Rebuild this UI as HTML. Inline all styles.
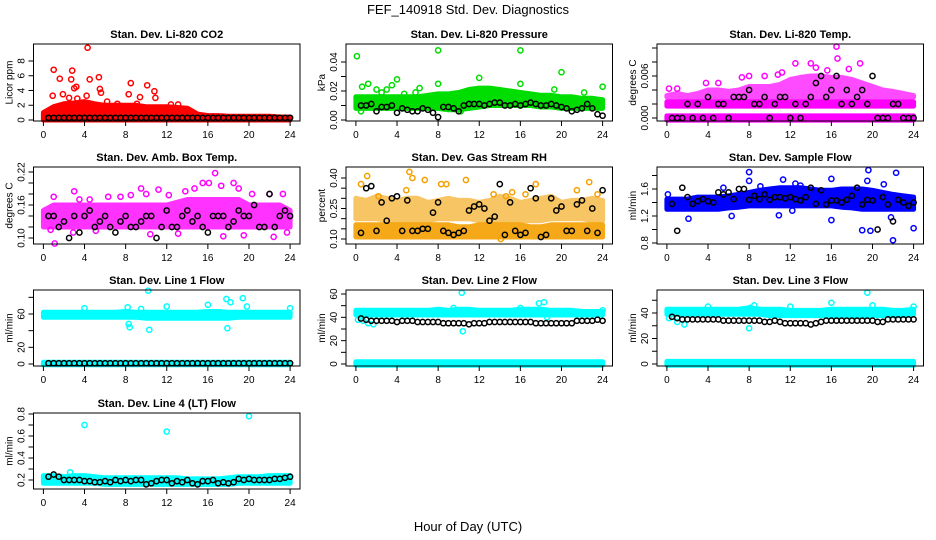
<!DOCTYPE html>
<html><head><meta charset="utf-8">
<style>
html,body{margin:0;padding:0;background:#fff;}
svg{display:block;font-family:"Liberation Sans",Arial,sans-serif;}
</style></head>
<body>
<svg id="chart" width="936" height="540" viewBox="0 0 936 540">
<text x="468" y="14" text-anchor="middle" font-size="13">FEF_140918  Std. Dev. Diagnostics</text>
<text x="468" y="531" text-anchor="middle" font-size="13">Hour of Day (UTC)</text>
</svg>
<script>
const HOURS = [0,1,2,3,4,5,6,7,8,9,10,11,12,13,14,15,16,17,18,19,20,21,22,23,24];
const BLK_HOURS = [0.5,1,1.5,2,2.5,3,3.5,4,4.5,5,5.5,6,6.5,7,7.5,8,8.5,9,9.5,10,10.5,11,11.5,12,12.5,13,13.5,14,14.5,15,15.5,16,16.5,17,17.5,18,18.5,19,19.5,20,20.5,21,21.5,22,22.5,23,23.5,24];
const X_TICKS = [0,4,8,12,16,20,24];

// Panel 1 CO2
const p1BandLo = [0,0,0,0,0,0,0,0,0,0,0,0,0,0,0,0,0,0,0,0,0,0,0,0,0];
const p1BandHi = [1,1.8,2.2,2.3,2.5,2.2,2,2,2,2,1.8,1.8,1.8,1.7,1.6,0.8,0.6,0.6,0.5,0.5,0.5,0.5,0.5,0.4,0.4];
const p1PtX = [0.9,1,1.6,1.9,2.7,2.8,3.0,3.2,4.3,4.5,5.4,5.5,5.6,8.3,8.5,9.4,10.1,10.8,10.9,3.3,6.2,2.5,4.2,7.2,9.1,12.4,13.1];
const p1PtY = [3.3,6.8,5.6,3.5,5.5,6.7,4.3,4.5,9.8,5.5,5.8,4.2,3.7,3.5,5.0,3.1,4.7,3.9,3.0,2.9,2.5,3.0,3.3,2.2,2.2,2.1,2.1];
const p1Blk = [0.3,0.3,0.3,0.3,0.3,0.3,0.3,0.3,0.3,0.3,0.3,0.3,0.3,0.3,0.3,0.3,0.3,0.3,0.3,0.3,0.3,0.3,0.3,0.3,0.3,0.3,0.3,0.3,0.3,0.3,0.3,0.3,0.3,0.3,0.3,0.3,0.3,0.3,0.3,0.3,0.3,0.3,0.3,0.3,0.3,0.3,0.3,0.3];
const p1YTicks = [0,2,4,6,8];
const p1YLabels = ["0","2","4","6","8"];

// Panel 2 Pressure
const p2BandLo = [0.008,0.008,0.008,0.008,0.008,0.008,0.008,0.008,0.008,0.007,0.007,0.008,0.009,0.010,0.010,0.010,0.010,0.010,0.009,0.009,0.008,0.008,0.008,0.008,0.008];
const p2BandHi = [0.016,0.016,0.016,0.016,0.016,0.016,0.016,0.017,0.018,0.018,0.019,0.021,0.022,0.022,0.021,0.020,0.019,0.018,0.017,0.017,0.016,0.016,0.015,0.015,0.014];
const p2PtX = [0.1,0.6,1.2,2,2.5,3,3.5,4,4.7,5.8,6.2,8,8,12,16,16,19.3,20,22.2,24,0.5,10.2];
const p2PtY = [0.044,0.023,0.025,0.021,0.019,0.021,0.024,0.028,0.018,0.019,0.022,0.048,0.025,0.029,0.048,0.025,0.021,0.033,0.019,0.023,0.006,0.006];
const p2Blk = [0.010,0.010,0.011,0.006,0.009,0.009,0.010,0.005,0.008,0.007,0.006,0.006,0.008,0.007,0.005,0.002,0.009,0.009,0.008,0.006,0.010,0.011,0.011,0.011,0.010,0.011,0.012,0.012,0.010,0.010,0.011,0.010,0.011,0.012,0.011,0.010,0.010,0.011,0.010,0.009,0.008,0.006,0.007,0.008,0.011,0.008,0.004,0.003];
const p2YTicks = [0,0.01,0.02,0.03,0.04];
const p2YLabels = ["0.00","","0.02","","0.04"];

// Panel 3 Li-820 Temp
const p3BandALo = [-0.0003,-0.0003,-0.0003,-0.0003,-0.0003,-0.0003,-0.0003,-0.0003,-0.0003,-0.0003,-0.0003,-0.0003,-0.0003,-0.0003,-0.0003,-0.0003,-0.0003,-0.0003,-0.0003,-0.0003,-0.0003,-0.0003,-0.0003,-0.0003,-0.0003];
const p3BandAHi = [0.0003,0.0003,0.0003,0.0003,0.0003,0.0003,0.0003,0.0003,0.0003,0.0003,0.0003,0.0003,0.0003,0.0003,0.0003,0.0003,0.0003,0.0003,0.0003,0.0003,0.0003,0.0003,0.0003,0.0003,0.0003];
const p3BandBLo = [0.0017,0.0017,0.0017,0.0017,0.0017,0.0017,0.0017,0.0017,0.0017,0.0017,0.0017,0.0017,0.0017,0.0017,0.0017,0.0017,0.0017,0.0017,0.0017,0.0017,0.0017,0.0017,0.0017,0.0017,0.0017];
const p3BandBHi = [0.0023,0.0023,0.0023,0.0023,0.0023,0.0023,0.0023,0.0023,0.0023,0.0023,0.0023,0.0023,0.0023,0.0023,0.0023,0.0023,0.0023,0.0023,0.0023,0.0023,0.0023,0.0023,0.0023,0.0023,0.0023];
const p3BandCLo = [0.0030,0.0030,0.0030,0.0030,0.0030,0.0030,0.0030,0.0030,0.0030,0.0030,0.0030,0.0030,0.0030,0.0030,0.0030,0.0030,0.0030,0.0030,0.0030,0.0030,0.0030,0.0030,0.0030,0.0030,0.0030];
const p3BandCHi = [0.0032,0.0035,0.0032,0.0035,0.0040,0.0040,0.0038,0.0040,0.0045,0.0045,0.0045,0.0048,0.0055,0.0058,0.0060,0.0060,0.0058,0.0058,0.0055,0.0050,0.0045,0.0040,0.0038,0.0035,0.0032];
const p3PtX = [16.5,16.6,12.5,14,18.8,7.3,8,9.5,10.8,0.2,1,3.8,5,11.2,14.5,15.6,17.7];
const p3PtY = [0.0102,0.0085,0.0078,0.0078,0.0078,0.0058,0.0060,0.0060,0.0062,0.0042,0.0042,0.0050,0.0050,0.0065,0.0072,0.0068,0.0070];
const p3Blk = [0.000,0.000,0.000,0.002,0.000,0.002,0.000,0.003,0.000,0.002,0.002,0.000,0.003,0.003,0.003,0.004,0.002,0.002,0.003,0.000,0.002,0.003,0.003,0.000,0.002,0.000,0.002,0.003,0.005,0.006,0.003,0.004,0.006,0.002,0.004,0.002,0.003,0.004,0.002,0.006,0.000,0.000,0.000,0.002,0.002,0.000,0.000,0.000];
const p3YTicks = [0,0.002,0.004,0.006,0.008,0.010];
const p3YLabels = ["0.000","","","0.006","",""];

// Panel 4 Amb Box Temp
const p4BandLo = [0.12,0.12,0.12,0.12,0.12,0.12,0.12,0.12,0.12,0.12,0.12,0.12,0.12,0.12,0.12,0.12,0.12,0.12,0.12,0.12,0.12,0.12,0.12,0.12,0.12];
const p4BandHi = [0.15,0.16,0.16,0.16,0.16,0.16,0.16,0.16,0.16,0.16,0.16,0.16,0.16,0.165,0.17,0.17,0.17,0.17,0.17,0.17,0.16,0.16,0.16,0.16,0.15];
const p4PtX = [1,1.1,3,3.5,4.5,7.5,8.5,9.5,10,11.2,13.8,14.7,15.5,16.1,16.7,17.3,18.5,19,20.3,22,23.3,17.5,19.5,22.4,10.4,13.1,0.7,5.1,2.9,23.7,6.3,12.2];
const p4PtY = [0.175,0.09,0.185,0.17,0.17,0.175,0.178,0.19,0.18,0.188,0.185,0.19,0.2,0.2,0.218,0.195,0.2,0.19,0.18,0.18,0.18,0.103,0.105,0.102,0.107,0.108,0.115,0.113,0.11,0.11,0.175,0.178];
const p4Blk = [0.14,0.14,0.12,0.13,0.10,0.14,0.11,0.14,0.15,0.12,0.13,0.14,0.12,0.11,0.13,0.14,0.12,0.12,0.13,0.14,0.14,0.10,0.12,0.15,0.12,0.12,0.14,0.15,0.13,0.14,0.12,0.11,0.14,0.14,0.14,0.12,0.13,0.15,0.14,0.14,0.16,0.12,0.12,0.18,0.12,0.14,0.15,0.14];
const p4YTicks = [0.10,0.12,0.14,0.16,0.18,0.20,0.22];
const p4YLabels = ["0.10","","","0.16","","","0.22"];

// Panel 5 Gas Stream RH
const p5BandALo = [0.11,0.11,0.11,0.11,0.11,0.11,0.11,0.11,0.11,0.11,0.11,0.11,0.11,0.11,0.11,0.11,0.11,0.11,0.11,0.11,0.11,0.11,0.11,0.11,0.11];
const p5BandAHi = [0.17,0.17,0.17,0.17,0.17,0.17,0.17,0.17,0.17,0.17,0.16,0.16,0.17,0.17,0.17,0.17,0.17,0.16,0.16,0.17,0.17,0.17,0.17,0.17,0.17];
const p5BandBLo = [0.20,0.20,0.20,0.19,0.19,0.19,0.19,0.19,0.20,0.20,0.20,0.20,0.19,0.19,0.19,0.19,0.19,0.19,0.19,0.20,0.20,0.20,0.20,0.19,0.19];
const p5BandBHi = [0.30,0.29,0.31,0.30,0.29,0.30,0.30,0.28,0.29,0.30,0.29,0.29,0.28,0.29,0.31,0.30,0.28,0.29,0.30,0.31,0.28,0.29,0.29,0.30,0.29];
const p5PtX = [0.5,1.1,5.2,5.5,6.7,8.3,8.8,10.7,13.4,14.6,17.5,21.5,22.7,23.5,14.1,4.9,2.2,15.2,16.5];
const p5PtY = [0.37,0.41,0.43,0.40,0.39,0.37,0.37,0.39,0.32,0.31,0.37,0.34,0.38,0.32,0.10,0.34,0.31,0.33,0.32];
const p5Blk = [0.13,0.35,0.36,0.14,0.28,0.19,0.30,0.31,0.14,0.29,0.14,0.14,0.15,0.15,0.23,0.28,0.14,0.13,0.12,0.13,0.14,0.24,0.26,0.27,0.25,0.19,0.21,0.37,0.12,0.28,0.14,0.12,0.13,0.35,0.30,0.11,0.12,0.30,0.24,0.26,0.14,0.14,0.27,0.29,0.14,0.25,0.13,0.34];
const p5YTicks = [0.10,0.15,0.20,0.25,0.30,0.35,0.40];
const p5YLabels = ["0.10","","","0.25","","","0.40"];

// Panel 6 Sample Flow
const p6BandLo = [1.30,1.30,1.30,1.30,1.30,1.30,1.32,1.33,1.35,1.35,1.35,1.35,1.35,1.35,1.35,1.35,1.35,1.33,1.32,1.30,1.30,1.30,1.30,1.30,1.30];
const p6BandHi = [1.45,1.45,1.45,1.48,1.48,1.48,1.50,1.52,1.55,1.58,1.60,1.62,1.62,1.62,1.60,1.58,1.58,1.60,1.60,1.60,1.58,1.55,1.52,1.50,1.48];
const p6PtX = [0.1,2.1,6.3,8,8,9.1,11.3,10.9,12.2,16,16,19,19.5,19.6,19.8,21.1,21.8,22,22.3,24,12.5,13,5.5];
const p6PtY = [1.52,1.16,1.2,1.85,1.72,1.64,1.74,1.21,1.28,1.14,1.75,0.99,1.72,1.88,0.98,1.67,1.18,0.84,1.84,1.02,1.68,1.65,1.62];
const p6Blk = [1.38,0.98,1.62,1.48,1.38,1.42,1.45,1.42,1.40,1.55,1.52,1.55,1.45,1.60,1.60,1.44,1.50,1.45,1.52,1.44,1.48,1.48,1.46,1.48,1.45,1.43,1.48,1.62,1.38,1.58,1.37,1.43,1.43,1.40,1.44,1.50,1.62,1.37,1.44,1.43,1.00,1.48,1.37,1.12,1.44,1.40,1.35,1.40];
const p6YTicks = [0.8,1.0,1.2,1.4,1.6,1.8];
const p6YLabels = ["0.8","","1.2","","1.6",""];

// Panel 7 Line 1 Flow
const p7BandALo = [56,56,56,56,56,56,56,56,56,56,55,55,55,55,55,55,55,55,55,56,56,56,56,56,56];
const p7BandAHi = [62,62,62,62,62,62,62,62,63,62,62,62,62,62,62,62,63,63,62,62,62,62,62,62,62];
const p7BandBLo = [-1,-1,-1,-1,-1,-1,-1,-1,-1,-1,-1,-1,-1,-1,-1,-1,-1,-1,-1,-1,-1,-1,-1,-1,-1];
const p7BandBHi = [2,2,2,2,2,2,2,2,2,2,2,2,2,2,2,2,2,2,2,2,2,2,2,2,2];
const p7PtX = [4,8.2,8.3,8.4,10.2,10.3,12,16,17.8,17.9,18.2,19.4,19.8,24,9.5];
const p7PtY = [67,68,48,44,88,41,69,71,78,43,74,79,69,67,66];
const p7Blk = [1,1,1,1,1,1,1,1,1,1,1,1,1,1,1,1,1,1,1,1,1,1,1,1,1,1,1,1,1,1,1,1,1,1,1,1,1,1,1,1,1,1,1,1,1,1,1,1];
const p7YTicks = [0,20,40,60,80];
const p7YLabels = ["0","20","","60",""];

// Panel 8 Line 2 Flow
const p8BandALo = [42,42,42,42,42,42,42,42,42,42,42,42,42,42,42,42,42,42,42,42,42,42,42,42,42];
const p8BandAHi = [46,46,46,46,46,46,46,46,47,46,47,47,46,46,46,46,47,47,47,46,46,46,45,45,45];
const p8BandBLo = [-1,-1,-1,-1,-1,-1,-1,-1,-1,-1,-1,-1,-1,-1,-1,-1,-1,-1,-1,-1,-1,-1,-1,-1,-1];
const p8BandBHi = [2,2,2,2,2,2,2,2,2,2,2,2,2,2,2,2,2,2,2,2,2,2,2,2,2];
const p8PtX = [10.3,10.4,17.8,18.3,16,24,1.2,1.7,0.2,0.7,9.5,18.6];
const p8PtY = [61,28,52,53,48,46,35,34,38,37,48,40];
const p8Blk = [39,38,37,37,37,37,37,36,37,37,37,36,36,36,36,36,35,35,35,35,35,34,35,35,35,36,36,36,36,36,36,36,36,36,35,35,35,35,35,35,35,35,37,37,37,37,38,37];
const p8YTicks = [0,10,20,30,40,50,60];
const p8YLabels = ["0","","20","","40","","60"];

// Panel 9 Line 3 Flow
const p9BandALo = [39,39,39,39,39,39,39,39,39,39,38,38,38,38,38,38,38,38,38,38,38,38,38,38,39];
const p9BandAHi = [43,43,43,43,43,43,43,43,44,43,43,43,42,42,42,42,43,43,43,43,43,43,42,42,43];
const p9BandBLo = [-1,-1,-1,-1,-1,-1,-1,-1,-1,-1,-1,-1,-1,-1,-1,-1,-1,-1,-1,-1,-1,-1,-1,-1,-1];
const p9BandBHi = [2,2,2,2,2,2,2,2,2,2,2,2,2,2,2,2,2,2,2,2,2,2,2,2,2];
const p9PtX = [19.5,8,8.1,8.5,0.2,1,1.7,18,12,16,20,24,4];
const p9PtY = [56,28,44,46,36,33,31,42,45,48,46,45,45];
const p9Blk = [37,36,35,35,35,35,35,35,35,35,34,34,34,34,34,34,34,34,33,33,34,33,32,32,32,32,32,31,32,33,34,34,34,34,34,34,34,34,34,34,33,33,35,35,35,35,35,35];
const p9YTicks = [0,10,20,30,40,50];
const p9YLabels = ["0","","20","","40",""];

// Panel 10 Line 4 (LT) Flow
const p10BandLo = [0.17,0.17,0.17,0.17,0.17,0.17,0.16,0.16,0.16,0.16,0.16,0.16,0.16,0.16,0.16,0.16,0.16,0.16,0.16,0.17,0.17,0.17,0.17,0.17,0.17];
const p10BandHi = [0.24,0.24,0.23,0.24,0.24,0.23,0.22,0.22,0.22,0.22,0.22,0.22,0.22,0.22,0.21,0.21,0.21,0.21,0.22,0.23,0.23,0.23,0.24,0.24,0.24];
const p10PtX = [4,12,20,2.6];
const p10PtY = [0.70,0.64,0.78,0.27];
const p10Blk = [0.23,0.25,0.23,0.20,0.20,0.20,0.20,0.19,0.19,0.18,0.18,0.19,0.18,0.20,0.19,0.20,0.19,0.20,0.20,0.16,0.17,0.19,0.20,0.20,0.17,0.19,0.18,0.20,0.17,0.16,0.19,0.19,0.20,0.17,0.18,0.17,0.18,0.21,0.20,0.21,0.20,0.20,0.20,0.20,0.21,0.21,0.22,0.23];
const p10YTicks = [0.2,0.3,0.4,0.5,0.6,0.7,0.8];
const p10YLabels = ["0.2","","0.4","","0.6","","0.8"];

const NS = "http://www.w3.org/2000/svg";
const svg = document.getElementById("chart");
function mk(tag, attrs, parent) {
  const e = document.createElementNS(NS, tag);
  for (const k in attrs) e.setAttribute(k, attrs[k]);
  (parent || svg).appendChild(e);
  return e;
}

const COLS = [33.5, 346, 657];
const ROWS = [[44,121],[167,244],[290,366],[413,489]];
const BOXW = 266.5;

const panels = [
  {id:"co2", title:"Stan. Dev. Li-820 CO2", ylab:"Licor ppm", c:0, r:0, ref:[0,120,8,61], color:"#ff0000",
   bands:[[p1BandLo,p1BandHi,1]], px:p1PtX, py:p1PtY, blk:p1Blk, yt:p1YTicks, yl:p1YLabels},
  {id:"pressure", title:"Stan. Dev. Li-820 Pressure", ylab:"kPa", c:1, r:0, ref:[0,120,0.04,62], color:"#00dd00",
   bands:[[p2BandLo,p2BandHi,1]], px:p2PtX, py:p2PtY, blk:p2Blk, yt:p2YTicks, yl:p2YLabels},
  {id:"li820-temp", title:"Stan. Dev. Li-820 Temp.", ylab:"degrees C", c:2, r:0, ref:[0,118,0.006,76], color:"#ff00ff",
   bands:[[p3BandALo,p3BandAHi,1],[p3BandBLo,p3BandBHi,1],[p3BandCLo,p3BandCHi,0.7]], px:p3PtX, py:p3PtY, blk:p3Blk, yt:p3YTicks, yl:p3YLabels},
  {id:"amb-box-temp", title:"Stan. Dev. Amb. Box Temp.", ylab:"degrees C", c:0, r:1, ref:[0.10,238,0.22,172], color:"#ff00ff",
   bands:[[p4BandLo,p4BandHi,0.8]], px:p4PtX, py:p4PtY, blk:p4Blk, yt:p4YTicks, yl:p4YLabels},
  {id:"gas-rh", title:"Stan. Dev. Gas Stream RH", ylab:"percent", c:1, r:1, ref:[0.10,239,0.40,178], color:"#f5a000",
   bands:[[p5BandALo,p5BandAHi,0.9],[p5BandBLo,p5BandBHi,0.6]], px:p5PtX, py:p5PtY, blk:p5Blk, yt:p5YTicks, yl:p5YLabels},
  {id:"sample-flow", title:"Stan. Dev. Sample Flow", ylab:"ml/min", c:2, r:1, ref:[0.8,243,1.6,189], color:"#0000ff",
   bands:[[p6BandLo,p6BandHi,1]], px:p6PtX, py:p6PtY, blk:p6Blk, yt:p6YTicks, yl:p6YLabels},
  {id:"line1-flow", title:"Stan. Dev. Line 1 Flow", ylab:"ml/min", c:0, r:2, ref:[0,364,60,314], color:"#00ffff",
   bands:[[p7BandALo,p7BandAHi,1],[p7BandBLo,p7BandBHi,1]], px:p7PtX, py:p7PtY, blk:p7Blk, yt:p7YTicks, yl:p7YLabels},
  {id:"line2-flow", title:"Stan. Dev. Line 2 Flow", ylab:"ml/min", c:1, r:2, ref:[0,364,60,294], color:"#00ffff",
   bands:[[p8BandALo,p8BandAHi,1],[p8BandBLo,p8BandBHi,1]], px:p8PtX, py:p8PtY, blk:p8Blk, yt:p8YTicks, yl:p8YLabels},
  {id:"line3-flow", title:"Stan. Dev. Line 3 Flow", ylab:"ml/min", c:2, r:2, ref:[0,364,40,313], color:"#00ffff",
   bands:[[p9BandALo,p9BandAHi,1],[p9BandBLo,p9BandBHi,1]], px:p9PtX, py:p9PtY, blk:p9Blk, yt:p9YTicks, yl:p9YLabels},
  {id:"line4-flow", title:"Stan. Dev. Line 4 (LT) Flow", ylab:"ml/min", c:0, r:3, ref:[0.2,480,0.8,414], color:"#00ffff",
   bands:[[p10BandLo,p10BandHi,1]], px:p10PtX, py:p10PtY, blk:p10Blk, yt:p10YTicks, yl:p10YLabels}
];

panels.forEach(p => {
  const left = COLS[p.c], right = left + BOXW;
  const top = ROWS[p.r][0], bottom = ROWS[p.r][1];
  const xs = h => left + 9.9 + h * (BOXW - 19.8) / 24;
  const k = (p.ref[3] - p.ref[1]) / (p.ref[2] - p.ref[0]);
  const ys = v => p.ref[1] + (v - p.ref[0]) * k;

  const g = mk("g", {});
  
  

  const cid = "clip-" + p.id;
  const cp = mk("clipPath", {id: cid}, g);
  mk("rect", {x: left - 3, y: top - 3, width: BOXW + 6, height: bottom - top + 6}, cp);
  const plot = mk("g", {"clip-path": "url(#" + cid + ")"}, g);
  
  

  p.bands.forEach((b, bi) => {
    const lo = b[0], hi = b[1];
    let pts = HOURS.map((h, i) => xs(h).toFixed(1) + "," + ys(hi[i]).toFixed(1));
    for (let i = HOURS.length - 1; i >= 0; i--) pts.push(xs(HOURS[i]).toFixed(1) + "," + ys(lo[i]).toFixed(1));
    const poly = mk("polygon", {points: pts.join(" "), fill: p.color, stroke: p.color, "stroke-width": 5,
      "stroke-linejoin": "round", opacity: b[2]}, plot);
    
    
  });

  p.px.forEach((h, i) => {
    const c = mk("circle", {cx: xs(h).toFixed(1), cy: ys(p.py[i]).toFixed(1), r: 2.6, fill: "none", stroke: p.color, "stroke-width": 1.5}, plot);
    
    
  });

  p.blk.forEach((v, i) => {
    const c = mk("circle", {cx: xs(BLK_HOURS[i]).toFixed(1), cy: ys(v).toFixed(1), r: 2.6, fill: "none", stroke: "#000", "stroke-width": 1.5}, plot);
    
    
  });

  const box = mk("rect", {x: left, y: top, width: BOXW, height: bottom - top, fill: "none", stroke: "#000", "stroke-width": 1}, g);
  
  

  const ttl = mk("text", {x: (left + right) / 2, y: top - 6, "text-anchor": "middle", "font-size": 11, "font-weight": "bold"}, g);
  ttl.textContent = p.title;
  
  

  X_TICKS.forEach(t => {
    mk("line", {x1: xs(t), x2: xs(t), y1: bottom, y2: bottom + 5, stroke: "#000"}, g);
    const tl = mk("text", {x: xs(t), y: bottom + 17, "text-anchor": "middle", "font-size": 10}, g);
    tl.textContent = String(t);
    
    
  });

  p.yt.forEach((t, i) => {
    const y = ys(t);
    mk("line", {x1: left - 5, x2: left, y1: y, y2: y, stroke: "#000"}, g);
    if (p.yl[i]) {
      const tl = mk("text", {x: left - 9, y: y, "text-anchor": "middle", "font-size": 10,
        transform: "rotate(-90 " + (left - 9) + " " + y + ")"}, g);
      tl.textContent = p.yl[i];
      
      
    }
  });

  const cy = (top + bottom) / 2;
  const yl = mk("text", {x: left - 21, y: cy, "text-anchor": "middle", "font-size": 10,
    transform: "rotate(-90 " + (left - 21) + " " + cy + ")"}, g);
  yl.textContent = p.ylab;
  
  
});
</script>
</body></html>
